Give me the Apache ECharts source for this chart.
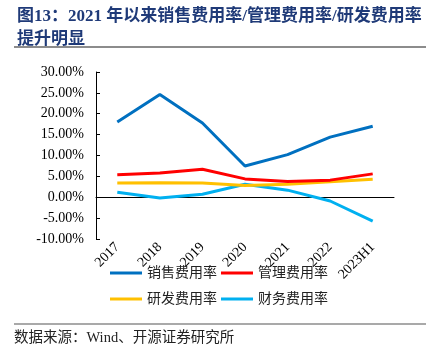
<!DOCTYPE html>
<html>
<head>
<meta charset="utf-8">
<script src="https://cdn.jsdelivr.net/npm/echarts@6/dist/echarts.min.js"></script>
<style>
html,body{margin:0;padding:0;background:#fff;}
#c{width:448px;height:356px;}
</style>
</head>
<body>
<div id="c"></div>
<script>
const categories = ['2017', '2018', '2019', '2020', '2021', '2022', '2023H1'];
const salesRate = [0.180, 0.246, 0.178, 0.075, 0.102, 0.144, 0.170];
const adminRate = [0.054, 0.058, 0.067, 0.044, 0.038, 0.041, 0.056];
const rdRate = [0.034, 0.035, 0.034, 0.028, 0.031, 0.037, 0.043];
const financeRate = [0.012, -0.002, 0.007, 0.031, 0.017, -0.009, -0.057];
const seriesNames = ['销售费用率', '管理费用率', '研发费用率', '财务费用率'];
const titleText = '图13：2021 年以来销售费用率/管理费用率/研发费用率\n提升明显';
const sourceText = '数据来源：Wind、开源证券研究所';

const serif = "'Liberation Serif','Noto Sans CJK SC'";
const colors = ['#0070C0', '#FF0000', '#FFC000', '#00B0F0'];
const chart = echarts.init(document.getElementById('c'));
const dataSets = [salesRate, adminRate, rdRate, financeRate];

chart.setOption({
  animation: false,
  backgroundColor: '#fff',
  title: {
    text: titleText,
    left: 12, top: 0,
    textStyle: {fontFamily: serif, fontSize: 17, fontWeight: 'bold', color: '#1F3A78', lineHeight: 23}
  },
  graphic: [
    {type: 'rect', shape: {x: 14, y: 46, width: 412, height: 2}, style: {fill: '#8C8C8C'}},
    {type: 'rect', shape: {x: 14, y: 323.5, width: 412, height: 1}, style: {fill: '#555'}},
    {type: 'text', left: 14, top: 331, style: {text: sourceText, font: "14.5px 'Liberation Serif','Noto Sans CJK SC'", fill: '#222'}}
  ],
  legend: [
    {
      data: [seriesNames[0], seriesNames[1]],
      left: 105, top: 261,
      icon: 'rect', itemWidth: 32, itemHeight: 3, itemGap: 4,
      textStyle: {fontFamily: serif, fontSize: 14, color: '#222'}
    },
    {
      data: [seriesNames[2], seriesNames[3]],
      left: 105, top: 287,
      icon: 'rect', itemWidth: 32, itemHeight: 3, itemGap: 4,
      textStyle: {fontFamily: serif, fontSize: 14, color: '#222'}
    }
  ],
  grid: {left: 96, right: 54, top: 72, bottom: 117, containLabel: false},
  xAxis: {
    type: 'category',
    data: categories,
    boundaryGap: true,
    axisLine: {onZero: true, lineStyle: {color: '#000', width: 1}},
    axisTick: {inside: true, length: 4, lineStyle: {color: '#000'}},
    axisLabel: {rotate: 45, fontFamily: serif, fontSize: 14, color: '#000', margin: 6}
  },
  yAxis: {
    type: 'value',
    min: -0.1, max: 0.3, interval: 0.05,
    splitLine: {show: false},
    axisLine: {show: true, lineStyle: {color: '#000', width: 1}},
    axisTick: {show: true, inside: true, length: 4, lineStyle: {color: '#000'}},
    axisLabel: {
      fontFamily: serif, fontSize: 14, color: '#000', margin: 12,
      formatter: v => (v * 100).toFixed(2) + '%'
    }
  },
  series: seriesNames.map((n, i) => ({
    name: n,
    type: 'line',
    data: dataSets[i],
    symbol: 'none',
    lineStyle: {width: 3, color: colors[i]},
    itemStyle: {color: colors[i]},
    z: 4 - i
  }))
});
</script>
</body>
</html>
